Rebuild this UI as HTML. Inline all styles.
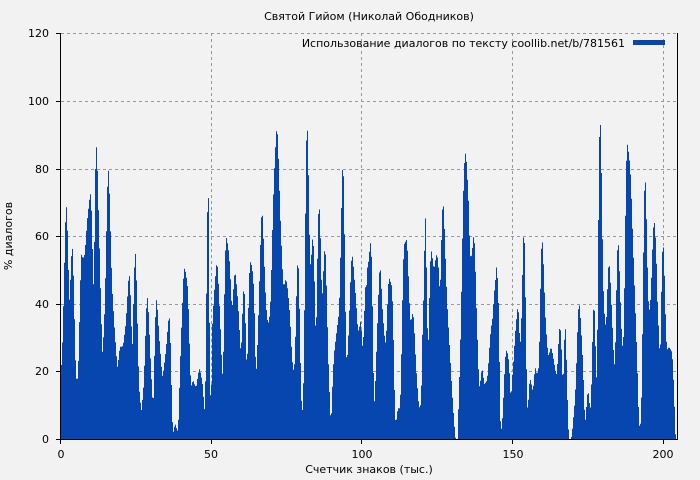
<!DOCTYPE html>
<html><head><meta charset="utf-8"><style>
body{margin:0;background:#f2f2f2;}
svg{display:block;font-family:"DejaVu Sans","Liberation Sans",sans-serif;}
</style></head><body>
<svg id="s" width="700" height="480" xmlns="http://www.w3.org/2000/svg">
<rect width="700" height="480" fill="#f2f2f2"/>
<g stroke="#999" stroke-dasharray="3,3" stroke-width="1">
<line x1="61" x2="678" y1="371.5" y2="371.5"/><line x1="61" x2="678" y1="304.5" y2="304.5"/>
<line x1="61" x2="678" y1="236.5" y2="236.5"/><line x1="61" x2="678" y1="169.5" y2="169.5"/>
<line x1="61" x2="678" y1="101.5" y2="101.5"/><line x1="61" x2="678" y1="33.5" y2="33.5"/>
<line x1="211.5" x2="211.5" y1="33" y2="439"/><line x1="361.5" x2="361.5" y1="33" y2="439"/>
<line x1="512.5" x2="512.5" y1="33" y2="439"/><line x1="663.5" x2="663.5" y1="33" y2="439"/>
</g>
<path id="bars" fill="#0646ae" d=""/>
<g stroke="#000" stroke-width="1">
<line x1="60.5" x2="60.5" y1="33" y2="440"/><line x1="60" x2="678" y1="439.5" y2="439.5"/>
<line x1="677.5" x2="677.5" y1="33" y2="440"/>
<line x1="56" x2="61" y1="371.5" y2="371.5"/><line x1="56" x2="61" y1="304.5" y2="304.5"/>
<line x1="56" x2="61" y1="236.5" y2="236.5"/><line x1="56" x2="61" y1="169.5" y2="169.5"/>
<line x1="56" x2="61" y1="101.5" y2="101.5"/><line x1="56" x2="61" y1="33.5" y2="33.5"/>
<line x1="56" x2="61" y1="439.5" y2="439.5"/>
<line x1="60.5" x2="60.5" y1="439" y2="444"/><line x1="211.5" x2="211.5" y1="439" y2="444"/>
<line x1="361.5" x2="361.5" y1="439" y2="444"/><line x1="512.5" x2="512.5" y1="439" y2="444"/>
<line x1="663.5" x2="663.5" y1="439" y2="444"/>
</g>
<g font-size="11" fill="#000" text-anchor="end">
<text x="49" y="443">0</text><text x="49" y="375">20</text><text x="49" y="308">40</text>
<text x="49" y="240">60</text><text x="49" y="173">80</text><text x="49" y="105">100</text><text x="49" y="37">120</text>
</g>
<g font-size="11" fill="#000" text-anchor="middle">
<text x="61" y="458">0</text><text x="211" y="458">50</text><text x="362" y="458">100</text>
<text x="513" y="458">150</text><text x="663" y="458">200</text>
<text x="369" y="473">Счетчик знаков (тыс.)</text>
<text x="369" y="20">Святой Гийом (Николай Ободников)</text>
<text transform="translate(12,236) rotate(-90)">% диалогов</text>
</g>
<text x="625" y="47" font-size="11" text-anchor="end">Использование диалогов по тексту coollib.net/b/781561</text>
<rect x="633" y="40" width="32" height="5" fill="#0646ae"/>
</svg>
<script>
var Z=[[55,[18,825,22,745,25,640,28,510,31,378,34,312,37,372,40,490,43,608,46,552,49,475,52,435,55,505,58,635,61,770,64,836,68,836,71,772,74,645,77,520,80,453,83,475,88,470,92,430,95,385,98,348,101,322,104,295,107,280,110,342,113,468,116,570,119,397,121,222,124,132,127,192,130,312,133,425,136,546,139,655,142,762,145,722,148,660,151,558,154,418,157,272,160,202,163,262,166,375,169,490,172,573,175,625,178,675,181,720,184,762,187,803,190,785,193,755,196,740,202,740,205,732,208,708,211,685,214,648,217,598,220,547,223,520,226,570,229,665,232,752,235,632,238,513,241,450,244,520,247,648,250,785,253,870,256,903,259,935,262,905,265,873,268,812,271,723,274,632,277,588,280,625,283,692,286,765,289,828,292,888,295,915,298,789,301,662,304,597,307,621,310,669,313,717,316,755,319,795,322,830,325,816,328,792,331,767,334,738,337,702,340,665,343,645,346,708,349,834,352,960,355,998,358,982,361,972,364,982,367,995,370,975,373,880,376,783,379,695,382,622,385,542,388,505,391,512,394,530,397,548,400,610,403,713,406,820,409,858,412,848,415,842,418,852,421,858,424,860,427,840,430,820,433,806,436,815,439,830,442,846,445,882,448,935,451,888,454,625,457,358,460,228,463,625,466,885,469,888,472,680,477,590]],
[210,[18,508,21,483,24,518,27,585,30,650,33,725,36,803,39,840,42,670,45,495,48,408,51,420,54,440,57,462,60,505,63,570,66,635,69,595,72,540,75,513,78,535,81,570,84,608,87,660,90,720,93,770,96,685,99,597,102,552,105,612,108,727,111,830,114,692,117,555,120,483,123,490,126,500,129,527,132,575,135,705,138,836,141,777,144,693,147,598,150,490,153,380,156,323,159,372,162,460,165,540,168,615,171,645,174,675,177,660,180,640,183,570,186,450,189,330,192,237,195,173,198,110,201,78,204,128,207,225,210,320,213,405,216,470,219,545,222,560,225,545,228,537,231,552,234,578,237,610,240,650,243,710,246,770,249,803,252,815,255,770,258,650,261,528,264,465,267,545,270,708,273,870,276,935,279,925,282,775,285,486,288,195,291,48,294,137,297,315,300,493,303,493,306,435,309,402,312,474,315,615,318,738,321,565,324,387,327,297,330,360,333,470,336,608,339,552,342,475,345,432,348,495,351,618,354,745,357,840,360,912,363,980,366,900,369,820,372,765,375,738,378,712,381,688,384,662,387,638,390,548,393,398,396,250,399,170,402,288,405,518,408,752,411,792,414,738,417,675,420,588,423,505,426,460,429,480,432,520,435,558,438,600,441,650,444,695,447,688,450,673,453,658,456,725,459,750,462,672,465,592,468,532,471,500,474,470]],
[365,[3,612,6,535,9,500,12,470,15,440,18,420,21,520,24,718,27,920,30,888,33,798,36,712,39,628,42,540,45,495,48,528,51,605,54,650,57,690,60,725,63,730,66,655,69,572,72,532,75,540,78,550,81,562,84,645,87,795,90,945,93,975,96,942,99,925,105,925,108,843,111,682,114,520,117,435,120,428,123,423,126,417,129,488,132,570,135,650,138,668,141,648,144,636,147,668,150,732,153,795,156,845,159,885,162,922,165,922,168,910,171,803,174,605,177,598,180,306,183,405,186,600,189,770,192,668,195,520,198,447,201,462,204,487,207,510,210,490,213,472,216,460,219,485,222,520,225,598,228,480,231,360,234,297,237,342,240,432,243,520,246,600,249,655,252,710,255,760,258,818,261,868,264,918,267,960,270,1000,272,1017,278,1017,279,975,282,880,285,782,288,655,291,495,294,336,297,208,300,170,303,153,306,218,309,260,312,345,315,468,318,470,321,465,324,423,327,400,330,460,333,570,336,680,339,758,342,858,345,860,348,825,351,808,354,815,357,852,360,852,363,845,366,842,369,812,372,768,375,718,378,688,381,665,384,648,387,578,390,565,393,515,396,490,399,578,402,640,405,932,408,995,411,978,414,932,417,855,420,790,423,750,426,755,429,765,432,790,435,850,438,905,441,843,444,805,447,765,450,710,453,675,456,640,459,615,462,658,465,740,468,710,471,600,474,450,477,375]],
[520,[15,483,18,700,21,915,24,930,27,868,30,835,33,845,36,862,39,875,42,840,45,805,48,805,51,832,54,805,57,805,60,645,63,487,66,405,69,450,72,535,75,620,78,685,81,722,84,765,87,765,90,750,93,742,96,750,99,768,102,785,105,803,108,822,111,822,114,762,117,702,120,672,123,710,126,787,129,862,132,780,135,658,138,718,141,840,144,960,147,1017,153,1017,156,1005,159,968,162,935,165,900,168,837,171,742,174,652,177,603,180,630,183,678,186,735,189,795,192,885,195,973,198,945,201,897,204,870,207,890,210,928,213,917,216,790,219,662,222,597,225,668,228,810,231,853,234,525,237,195,240,27,243,123,246,315,249,520,252,628,255,655,258,692,261,610,264,525,267,480,270,517,273,580,276,648,279,718,282,782,285,803,288,650,291,492,294,410,297,462,300,565,303,648,306,725,309,750,312,672,315,457,318,237,321,127,324,142,327,168,330,195,333,252,336,340,339,432,342,515,345,598,348,682,351,770,354,870,357,972,360,983,363,960,366,825,369,580,372,335,375,210,378,285,381,430,384,575,387,632,390,625,393,575,396,492,399,405,402,360,405,378,408,447,411,535,414,675,417,678,420,812,423,655,426,495,429,415,432,470,435,585,438,700,441,750,444,745,447,742,450,745,453,750,456,758,459,798,462,880,465,960,467,1017]]];
var P=[];
Z.forEach(function(z){var o=z[0],a=z[1];for(var i=0;i<a.length;i+=2)P.push([o+a[i]/3,100+a[i+1]/3]);});
P.sort(function(a,b){return a[0]-b[0];});
function f(x){if(x<=P[0][0])return P[0][1];for(var i=1;i<P.length;i++){if(P[i][0]>=x){var p=P[i-1],q=P[i];var t=(x-p[0])/(q[0]-p[0]||1);return p[1]+t*(q[1]-p[1]);}}return 439;}
var d="";for(var x=61;x<677;x++){var y=Math.min(439,f(x+0.5));if(y<439)d+="M"+x+" 439V"+y.toFixed(1)+"H"+(x+1)+"V439Z";}
document.getElementById("bars").setAttribute("d",d);
</script>
</body></html>
